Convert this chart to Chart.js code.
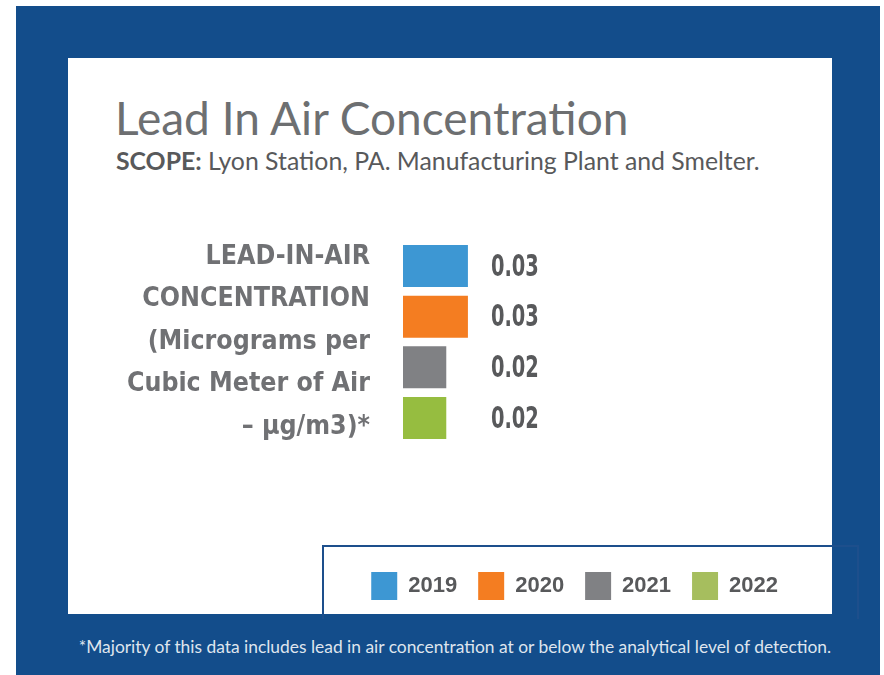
<!DOCTYPE html>
<html><head><meta charset="utf-8">
<script src="https://cdn.jsdelivr.net/npm/chart.js@4"></script>
<style>
html,body{margin:0;padding:0;background:#fff;width:884px;height:675px;overflow:hidden;}
#bg{position:absolute;left:16px;top:6px;width:864px;height:669px;background:#134d8b;}
#panel{position:absolute;left:68px;top:58px;width:764px;height:556px;background:#fff;}
#legbox{position:absolute;left:322px;top:545px;width:533px;height:72px;border:2px solid #1d4f8c;border-bottom:none;}
#title{position:absolute;left:115px;top:90px;font:46px Lato, sans-serif;color:#6d6f71;white-space:nowrap;}
#sub{position:absolute;left:116px;top:146px;font:24.8px Lato, sans-serif;color:#58595b;white-space:nowrap;}
#sub b{font-weight:bold;}
#foot{position:absolute;left:0;width:910px;text-align:center;top:636px;font:17.4px Lato, sans-serif;color:#dfe5ee;white-space:nowrap;}
#wrap{position:absolute;left:68px;top:58px;width:764px;height:556px;}
</style></head>
<body>
<div id="bg"></div>
<div id="panel"></div>
<div id="legbox"></div>
<div id="title">Lead In Air Concentration</div>
<div id="sub"><b>SCOPE:</b> Lyon Station, PA. Manufacturing Plant and Smelter.</div>
<div id="foot">*Majority of this data includes lead in air concentration at or below the analytical level of detection.</div>
<div id="wrap"><canvas id="c" width="764" height="556"></canvas></div>
<script>
const categories = [["LEAD-IN-AIR", "CONCENTRATION", "(Micrograms per", "Cubic Meter of Air", "– µg/m3)*"]];
const years = ["2019", "2020", "2021", "2022"];
const values = [0.03, 0.03, 0.02, 0.02];
const colors = ["#3d97d3", "#f47d21", "#808184", "#96bd40"];
const legendColors = ["#3d97d3", "#f47d21", "#808184", "#a6be5e"];

const valueLabels = {
  id: 'valueLabels',
  afterDatasetsDraw(chart) {
    const ctx = chart.ctx;
    const xs = chart.scales.x;
    const xPos = xs.getPixelForValue(Math.max(...values)) + 23;
    const sx = 0.72;
    ctx.save();
    ctx.font = 'bold 30px "DejaVu Sans Condensed", "DejaVu Sans", sans-serif';
    ctx.fillStyle = '#58595b';
    ctx.textBaseline = 'middle';
    ctx.textAlign = 'left';
    chart.data.datasets.forEach((ds, i) => {
      const meta = chart.getDatasetMeta(i);
      meta.data.forEach((bar, j) => {
        ctx.save();
        ctx.translate(xPos, bar.y + 2);
        ctx.scale(sx, 1);
        ctx.fillText(ds.data[j].toFixed(2), 0, 0);
        ctx.restore();
      });
    });
    ctx.restore();
  }
};

new Chart(document.getElementById('c'), {
  type: 'bar',
  data: {
    labels: categories,
    datasets: years.map((y, i) => ({
      label: y,
      data: [values[i]],
      backgroundColor: colors[i],
      borderWidth: 0,
      categoryPercentage: 0.485,
      barPercentage: 0.83
    }))
  },
  options: {
    indexAxis: 'y',
    responsive: false,
    animation: false,
    layout: { padding: { top: 75, bottom: 4, right: 33, left: 0 } },
    scales: {
      x: { display: false, min: 0, max: 0.183 },
      y: {
        grid: { display: false, drawTicks: false },
        border: { display: false },
        ticks: {
          padding: 33,
          color: '#707174',
          font: { family: '"DejaVu Sans Condensed", "DejaVu Sans"', weight: 'bold', size: 26.5, lineHeight: 1.6 }
        },
        afterFit(scale) { scale.width = 335; scale.paddingTop = 0; scale.paddingBottom = 0; }
      }
    },
    plugins: {
      legend: {
        position: 'bottom',
        align: 'end',
        labels: {
          boxWidth: 26,
          boxHeight: 28,
          padding: 21,
          color: '#58595b',
          font: { family: '"Liberation Sans", Arial, sans-serif', weight: 'bold', size: 22 },
          generateLabels(chart) {
            const items = Chart.defaults.plugins.legend.labels.generateLabels(chart);
            items.forEach((it, i) => { it.fillStyle = legendColors[i]; it.strokeStyle = legendColors[i]; it.lineWidth = 0; });
            return items;
          }
        }
      },
      tooltip: { enabled: false }
    }
  },
  plugins: [valueLabels]
});
</script>
</body></html>
